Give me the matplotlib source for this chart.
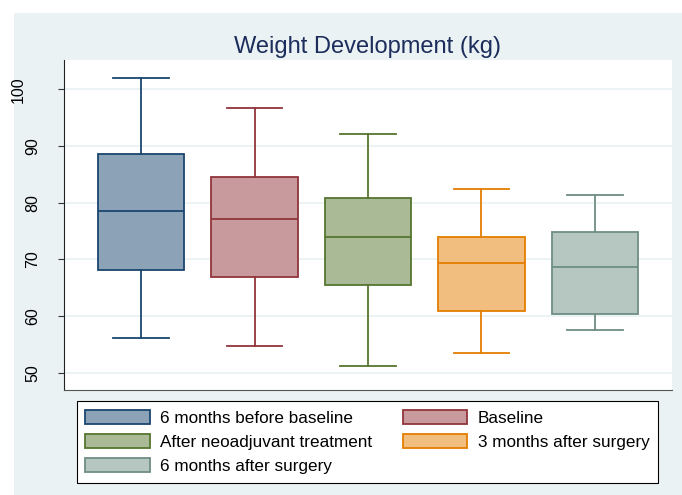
import matplotlib
matplotlib.use("Agg")
import matplotlib.pyplot as plt
from matplotlib.patches import Patch, Rectangle
from matplotlib.transforms import ScaledTranslation

plt.rcParams["font.family"] = ["Liberation Sans", "DejaVu Sans"]

# Weight summary per time point (kg)
groups = [
    "6 months before baseline",
    "Baseline",
    "After neoadjuvant treatment",
    "3 months after surgery",
    "6 months after surgery",
]
whisker_low = [56.1, 54.8, 51.1, 53.5, 57.5]
q1 = [68.2, 66.9, 65.5, 60.9, 60.3]
median = [78.6, 77.2, 73.9, 69.4, 68.6]
q3 = [88.6, 84.5, 80.9, 74.0, 74.8]
whisker_high = [102.1, 96.7, 92.1, 82.5, 81.4]
y_ticks = [50, 60, 70, 80, 90, 100]

edge_colors = ["#1a476f", "#90353b", "#55752f", "#e37e00", "#6e8e84"]
fill_colors = ["#8ca3b7", "#c89a9d", "#aaba97", "#f1be7f", "#b6c7c1"]
bg_color = "#eaf2f3"

fig = plt.figure(figsize=(6.82, 4.95), dpi=100, facecolor="white")
fig.add_artist(Rectangle((14 / 682, 0), 1 - 14 / 682, 1 - 13 / 495,
                         transform=fig.transFigure, facecolor=bg_color,
                         edgecolor="none", zorder=-10))

ax = fig.add_axes([64 / 682, 105 / 495, 608 / 682, 330 / 495])
ax.set_facecolor("white")

stats = []
for i, name in enumerate(groups):
    stats.append({
        "label": name,
        "whislo": whisker_low[i],
        "q1": q1[i],
        "med": median[i],
        "q3": q3[i],
        "whishi": whisker_high[i],
        "fliers": [],
    })

positions = list(range(1, len(groups) + 1))
bp = ax.bxp(stats, positions=positions, widths=0.76, capwidths=0.49,
            patch_artist=True, showfliers=False, zorder=3)

for i in range(len(groups)):
    box = bp["boxes"][i]
    box.set_facecolor(fill_colors[i])
    box.set_edgecolor(edge_colors[i])
    box.set_linewidth(1.3)
    bp["medians"][i].set_color(edge_colors[i])
    bp["medians"][i].set_linewidth(1.3)
    for line in bp["whiskers"][2 * i:2 * i + 2] + bp["caps"][2 * i:2 * i + 2]:
        line.set_color(edge_colors[i])
        line.set_linewidth(1.3)

ax.set_xlim(0.32, 5.68)
ax.set_ylim(46.95, 105.2)
ax.set_xticks([])
ax.set_yticks(y_ticks)
ax.set_yticklabels([str(t) for t in y_ticks], rotation=90, va="center")
ax.tick_params(axis="y", length=4.3, width=0.8, color="#333333",
               labelsize=11.5, pad=13)
ax.yaxis.grid(True, color=bg_color, linewidth=1.3, zorder=0)
ax.set_axisbelow(True)

for side in ("top", "right"):
    ax.spines[side].set_visible(False)
ax.spines["left"].set_color("#222222")
ax.spines["left"].set_linewidth(0.8)
ax.spines["bottom"].set_color("#555555")
ax.spines["bottom"].set_linewidth(0.8)

# the three-digit label sits further out from the axis
for label in ax.get_yticklabels():
    if label.get_text() == "100":
        label.set_transform(label.get_transform()
                            + ScaledTranslation(-14 / 100, 0, fig.dpi_scale_trans))

ax.set_title("Weight Development (kg)", fontsize=17, color="#1c2c5b", pad=5)

# legend fills row by row: reorder for matplotlib's column-major layout
handles = [Patch(facecolor=fill_colors[i], edgecolor=edge_colors[i],
                 linewidth=1.3, label=groups[i]) for i in range(len(groups))]
order = [0, 2, 4, 1, 3]
leg = fig.legend(handles=[handles[i] for i in order], ncol=2, loc="upper left",
                 bbox_to_anchor=(76.6 / 682, 1 - 401 / 495, 581.4 / 682, 0),
                 bbox_transform=fig.transFigure, mode="expand",
                 borderaxespad=0, fontsize=12.3, handlelength=3.78,
                 handleheight=0.93, handletextpad=0.6, labelspacing=0.47,
                 borderpad=0.5, fancybox=False, framealpha=1,
                 edgecolor="black")
leg.get_frame().set_linewidth(0.8)

fig.savefig("out.png", dpi=100, facecolor=fig.get_facecolor())
